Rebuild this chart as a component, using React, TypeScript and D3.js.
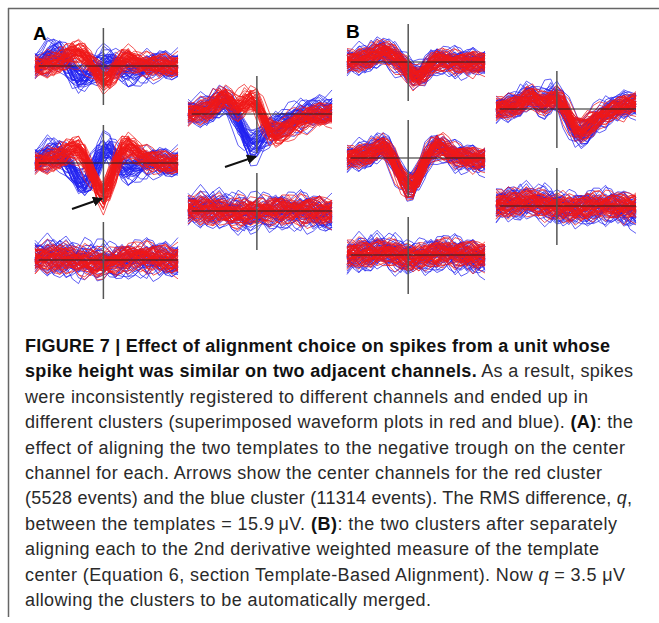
import React from 'react';
import * as d3 from 'd3';

// ---- Waveform data (24 samples per trace, pixel-scale amplitude, up = positive) ----

// Panel A: templates aligned on the negative trough of each cluster's own center channel
const A1_RED = [0, 0, 1, 2, 4, 8, 13, 14, 10, 3, -6, -15, -12, -2, 6, 8, 5, 2, 1, 0, 0, 1, 0, 0];
const A1_BLUE = [1, 4, 8, 12, 11, 5, -5, -12, -12, -7, -1, 5, 6, 3, -3, -6, -5, -2, 0, 1, 0, 0, 0, 0];
const A2_RED = [0, 1, 2, 3, 5, 10, 14, 15, 6, -9, -24, -35, -21, 0, 14, 17, 13, 8, 4, 2, 1, 0, 0, 0];
const A2_BLUE = [2, 5, 9, 10, 8, 2, -7, -17, -23, -15, 2, 14, 16, 7, -4, -8, -4, -1, 1, 2, 0, -1, 0, 0];
const A3_RED = [1, 2, 2, 2, 1, 1, 0, -1, -2, -2, -3, -3, -2, 0, 2, 3, 4, 4, 3, 2, 2, 1, 1, 0];
const A3_BLUE = [3, 4, 4, 3, 2, 1, 0, 0, -1, -1, 0, 0, -1, -1, 0, 1, 2, 2, 1, 1, 0, 0, 0, 0];
const A4_RED = [0, 1, 2, 3, 7, 14, 17, 11, 4, 11, 16, 13, -2, -16, -21, -17, -13, -9, -6, -4, -2, -1, 0, 1];
const A4_BLUE = [1, 2, 3, 3, 6, 11, 13, 6, -5, -21, -31, -29, -22, -16, -12, -9, -6, -4, -2, 0, 2, 3, 4, 5];
const A5_RED = [2, 2, 1, 1, 1, 0, -1, -3, -3, -1, 0, 1, 1, 1, 2, 2, 2, 1, 1, 0, 0, 0, 0, 0];
const A5_BLUE = [1, 2, 3, 3, 2, 1, 0, -1, -2, -3, -2, -1, 0, 0, 1, 1, 1, 0, 0, -1, -2, -3, -3, -4];

// Panel B: templates aligned on the 2nd-derivative weighted center
const B1_RED = [1, 1, 2, 3, 5, 9, 11, 9, 4, 0, -6, -14, -15, -9, -1, 3, 3, 1, 0, -1, -2, -1, 0, 0];
const B1_BLUE = [0, 1, 2, 3, 4, 8, 10, 8, 4, 0, -5, -12, -13, -8, -1, 3, 2, 1, 0, -1, -1, 0, 0, 0];
const B2_RED = [0, 1, 2, 3, 5, 9, 13, 7, -6, -19, -27, -29, -17, -2, 8, 13, 11, 6, 3, 1, 0, -1, -1, 0];
const B2_BLUE = [0, 1, 2, 3, 5, 8, 12, 7, -5, -17, -26, -28, -15, -1, 8, 12, 10, 5, 2, 0, 0, -1, -2, -1];
const B3_RED = [0, 1, 1, 2, 2, 3, 3, 2, 1, -1, -2, -3, -2, 0, 1, 2, 3, 3, 2, 1, 1, 0, 0, 0];
const B3_BLUE = [-1, 0, 1, 1, 2, 3, 4, 3, 1, -1, -2, -2, -1, 0, 1, 2, 2, 2, 1, 0, -1, -2, -2, -2];
const B4_RED = [0, 1, 2, 3, 6, 11, 13, 7, 5, 10, 12, 4, -8, -19, -22, -18, -13, -8, -4, -1, 1, 3, 5, 6];
const B4_BLUE = [0, 1, 2, 3, 6, 11, 13, 7, 5, 11, 13, 4, -9, -21, -25, -20, -14, -9, -4, -1, 1, 3, 5, 6];
const B5_RED = [1, 2, 2, 3, 4, 5, 5, 3, 1, 0, -1, -2, -3, -3, -2, -1, 0, 1, 1, 1, 0, 0, 0, 0];
const B5_BLUE = [1, 2, 2, 3, 4, 4, 4, 3, 1, 0, -1, -2, -2, -2, -2, -1, 0, 0, 0, -1, -2, -3, -4, -4];

// Per-event deviations from the template (background noise profiles)
const NOISE = [
  [2, -1, 3, 0, -2, 1, 4, 2, -1, -3, 0, 2, 1, -2, -4, -1, 2, 3, 1, -1, -2, 0, 2, 1],
  [-3, -2, 0, 2, 3, 1, -1, -3, -2, 1, 3, 2, -1, -2, 0, 3, 4, 2, -1, -3, -2, 1, 2, 0],
  [1, 3, 4, 2, -1, -2, 0, 1, 3, 2, -1, -3, -2, 1, 2, 0, -2, -3, -1, 2, 3, 1, -1, -2],
  [0, -2, -4, -3, -1, 2, 3, 1, 0, -1, -2, 0, 3, 4, 2, -1, -3, -1, 1, 0, -2, -3, -1, 1],
  [-1, 0, 1, -2, -3, -2, 1, 3, 4, 2, 0, -1, 1, 2, 1, -2, -1, 1, 3, 4, 2, -1, -3, -2],
  [3, 2, 0, -1, 1, 3, 2, 0, -2, -3, -1, 1, 0, -1, -3, -2, 0, 2, 1, -1, 0, 2, 3, 2],
  [-2, 1, 2, 4, 3, 0, -2, -1, 1, 0, -2, -1, 2, 3, 0, 1, 3, 1, -2, -4, -3, -1, 0, -1],
  [0, 1, -1, -3, -2, 0, 2, 4, 3, 1, 2, 3, 0, -2, -1, -3, -4, -2, 0, 1, -1, -2, 1, 3],
];
const TRACE_SHIFT = [0, 0.45, -0.4, 0.2, -0.6, 0.3, -0.15];
const TRACE_GAIN = [1, 0.8, 1.2, 0.9, 1.1];
const TRACE_OFFSET = [0, 2.5, -2, 1, -3, 3.5, -1, 0.5, -4];
const TRACE_ROT = [0, 5, 11, 17, 3, 9, 14, 20, 7, 1, 22];

const CAPTION_LINES: { text: string; weight?: string; style?: string }[][] = [
  [{ text: 'FIGURE 7 | Effect of alignment choice on spikes from a unit whose', weight: 'bold' }],
  [{ text: 'spike height was similar on two adjacent channels.', weight: 'bold' }, { text: ' As a result, spikes' }],
  [{ text: 'were inconsistently registered to different channels and ended up in' }],
  [{ text: 'different clusters (superimposed waveform plots in red and blue). ' }, { text: '(A)', weight: 'bold' }, { text: ': the' }],
  [{ text: 'effect of aligning the two templates to the negative trough on the center' }],
  [{ text: 'channel for each. Arrows show the center channels for the red cluster' }],
  [{ text: '(5528 events) and the blue cluster (11314 events). The RMS difference, ' }, { text: 'q', style: 'italic' }, { text: ',' }],
  [{ text: 'between the templates = 15.9\u2009\u03bcV. ' }, { text: '(B)', weight: 'bold' }, { text: ': the two clusters after separately' }],
  [{ text: 'aligning each to the 2nd derivative weighted measure of the template' }],
  [{ text: 'center (Equation 6, section Template-Based Alignment). Now ' }, { text: 'q', style: 'italic' }, { text: ' = 3.5 \u03bcV' }],
  [{ text: 'allowing the clusters to be automatically merged.' }],
];
const CAPTION_WIDTHS = [585, 608, 563, 608, 600, 577, 607, 592, 574, 600, 406];

// ---- Layout ----
const CHANNELS = [
  { red: A1_RED, blue: A1_BLUE, x0: 35, x1: 178, base: 66, center: 11, spread: 1.9 },
  { red: A2_RED, blue: A2_BLUE, x0: 35, x1: 178, base: 163, center: 11, spread: 1.9 },
  { red: A3_RED, blue: A3_BLUE, x0: 35, x1: 178, base: 260, center: 11, spread: 2.3 },
  { red: A4_RED, blue: A4_BLUE, x0: 188, x1: 332, base: 114, center: 11, spread: 1.9 },
  { red: A5_RED, blue: A5_BLUE, x0: 188, x1: 332, base: 211, center: 11, spread: 2.3 },
  { red: B1_RED, blue: B1_BLUE, x0: 347, x1: 485, base: 62, center: 10.2, spread: 1.8 },
  { red: B2_RED, blue: B2_BLUE, x0: 347, x1: 485, base: 158, center: 10.2, spread: 1.8 },
  { red: B3_RED, blue: B3_BLUE, x0: 347, x1: 485, base: 255, center: 10.2, spread: 2.2 },
  { red: B4_RED, blue: B4_BLUE, x0: 496, x1: 636, base: 109, center: 10, spread: 1.8 },
  { red: B5_RED, blue: B5_BLUE, x0: 496, x1: 636, base: 206, center: 10, spread: 2.2 },
];

const N_RED = 56;
const N_BLUE = 44;
const BLUE_SPREAD = 1.25;
const RED = '#f01818';
const BLUE = '#2222f0';
const SAMPLES = d3.range(24);

function sampleAt(tpl: number[], t: number) {
  const c = Math.max(0, Math.min(tpl.length - 1, t));
  const i0 = Math.floor(c);
  const i1 = Math.min(tpl.length - 1, i0 + 1);
  const f = c - i0;
  return tpl[i0] * (1 - f) + tpl[i1] * f;
}

// One event: template with its own timing, gain, baseline offset and noise profile
function eventTrace(tpl: number[], k: number, spread: number, seedOffset: number) {
  const j = k + seedOffset;
  const shift = TRACE_SHIFT[j % TRACE_SHIFT.length];
  const gain = TRACE_GAIN[j % TRACE_GAIN.length];
  const off = TRACE_OFFSET[j % TRACE_OFFSET.length];
  const n1 = NOISE[j % NOISE.length];
  const n2 = NOISE[(j * 3 + 2) % NOISE.length];
  const rot = TRACE_ROT[j % TRACE_ROT.length];
  const rot2 = TRACE_ROT[(j + 4) % TRACE_ROT.length];
  return SAMPLES.map(
    (i) =>
      gain * sampleAt(tpl, i - shift) +
      spread * (n1[(i + rot) % 24] + 0.5 * n2[(i + rot2) % 24]) +
      off * spread * 0.8
  );
}

function Channel({ ch, idx }: { ch: (typeof CHANNELS)[number]; idx: number }) {
  const x = d3.scaleLinear().domain([0, 23]).range([ch.x0, ch.x1]);
  const y = d3.scaleLinear().domain([-50, 50]).range([ch.base + 50, ch.base - 50]);
  const line = d3
    .line<number>()
    .x((_, i) => x(i))
    .y((d) => y(d));
  const blue = d3.range(N_BLUE).map((k) => eventTrace(ch.blue, k, ch.spread * BLUE_SPREAD, idx * 3 + 1));
  const red = d3.range(N_RED).map((k) => eventTrace(ch.red, k, ch.spread, idx * 5));
  return (
    <g>
      {blue.map((t, k) => (
        <path key={'b' + k} d={line(t) || ''} fill="none" stroke={BLUE} strokeWidth={0.85} strokeOpacity={0.85} />
      ))}
      {red.map((t, k) => (
        <path key={'r' + k} d={line(t) || ''} fill="none" stroke={RED} strokeWidth={0.85} strokeOpacity={0.85} />
      ))}
      <line x1={x(0.6)} x2={x(23)} y1={y(0)} y2={y(0)} stroke="#222" strokeWidth={1.1} />
      <line x1={x(ch.center)} x2={x(ch.center)} y1={y(38)} y2={y(-39)} stroke="#555" strokeWidth={1.5} />
    </g>
  );
}

export default function App() {
  const lineGap = 25.4;
  return (
    <svg width={659} height={623} style={{ position: 'absolute', left: 0, top: 0, background: '#fff' }}>
      <defs>
        <marker id="head" viewBox="0 0 10 10" refX="9" refY="5" markerWidth="5" markerHeight="5" orient="auto">
          <path d="M0,0 L10,5 L0,10 z" fill="#111" />
        </marker>
      </defs>
      <rect x={0} y={0} width={659} height={623} fill="#fff" />
      {/* frame */}
      <line x1={8} x2={659} y1={8.5} y2={8.5} stroke="#666" strokeWidth={1.5} />
      <line x1={8.5} x2={8.5} y1={8} y2={617} stroke="#666" strokeWidth={1.5} />

      {CHANNELS.map((ch, i) => (
        <Channel key={i} ch={ch} idx={i} />
      ))}

      <line x1={72} y1={209} x2={102} y2={198.5} stroke="#111" strokeWidth={2} markerEnd="url(#head)" />
      <line x1={225} y1={167} x2={256} y2={156.5} stroke="#111" strokeWidth={2} markerEnd="url(#head)" />

      <text x={33} y={40} fontFamily="Liberation Sans, Arial, sans-serif" fontWeight="bold" fontSize={19} fill="#000">A</text>
      <text x={346} y={38} fontFamily="Liberation Sans, Arial, sans-serif" fontWeight="bold" fontSize={19} fill="#000">B</text>

      {CAPTION_LINES.map((segs, i) => (
        <text
          key={i}
          x={25}
          y={352 + i * lineGap}
          fontFamily="Liberation Sans, Arial, sans-serif"
          fontSize={18}
          fill="#2a2a2a"
          textLength={CAPTION_WIDTHS[i]}
          lengthAdjust="spacing"
        >
          {segs.map((s, j) => (
            <tspan key={j} fontWeight={s.weight || 'normal'} fontStyle={s.style || 'normal'} fill={s.weight ? '#111' : '#2a2a2a'}>
              {s.text}
            </tspan>
          ))}
        </text>
      ))}
    </svg>
  );
}
